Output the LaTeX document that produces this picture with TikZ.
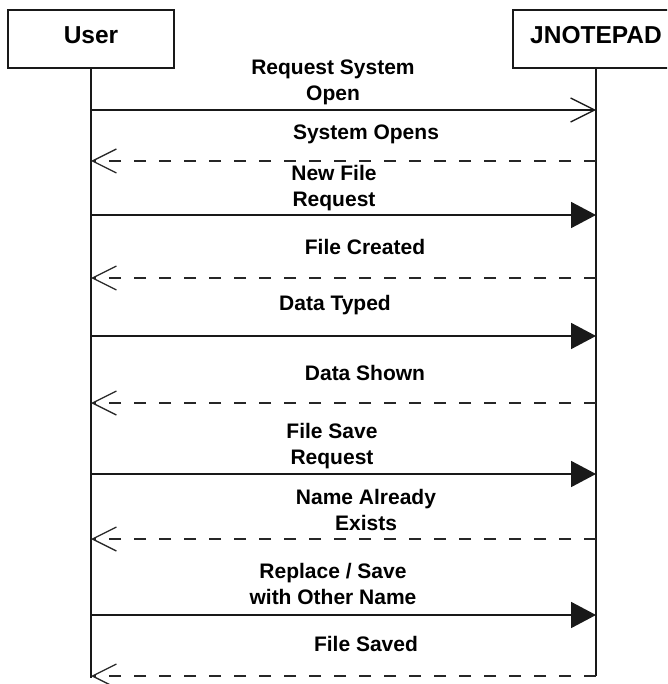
\documentclass[tikz,border=0pt]{standalone}
\usepackage{fontspec}
\setmainfont{Liberation Sans}
\usetikzlibrary{arrows.meta}
\begin{document}
\begin{tikzpicture}[x=1pt,y=-1pt,
  actor/.style={draw=black!90, line width=1.8pt, fill=white,
    minimum width=166pt, minimum height=58pt, inner sep=0pt,
    font=\bfseries\fontsize{24.5}{28}\selectfont,
    text height=17.5pt, text depth=9pt},
  lifeline/.style={draw=black!90, line width=1.8pt},
  callopen/.style={draw=black!90, line width=1.8pt,
    -{Straight Barb[length=24pt,width=24pt,line width=1.3pt]}},
  call/.style={draw=black!90, line width=1.8pt,
    -{Triangle[length=25pt,width=26pt]}},
  reply/.style={draw=black!85, line width=1.8pt, dash pattern=on 12pt off 13pt,
    -{Straight Barb[length=24pt,width=24pt,line width=1.3pt]}},
  % the node centre sits on the middle of the last line's capitals
  msg/.style={font=\bfseries\fontsize{21}{26}\selectfont, align=center,
    text height=15pt, text depth=0pt, inner sep=0pt}
]
\useasboundingbox (0,0) rectangle (667,684);
\clip (0,0) rectangle (667,684);

% participants
\node[actor] (user) at (91,39) {User};
\node[actor] (jnp)  at (596,39) {JNOTEPAD};

% lifelines
\coordinate (uend) at (91,678);
\coordinate (jend) at (596,676);
\draw[lifeline] (user.south) -- (uend);
\draw[lifeline] (jnp.south) -- (jend);

% messages from User to JNOTEPAD
\draw[callopen] (user |- 0,110) -- (jnp |- 0,110);
\foreach \y in {215,336,474,615}
  \draw[call] (user |- 0,\y) -- (jnp |- 0,\y);

% replies from JNOTEPAD to User
\foreach \y in {161,278,403,539,676}
  \draw[reply] (jnp |- 0,\y) -- (user |- 0,\y);

% message labels
\node[msg] (m1)  at (333,93)  {Request System\\Open};
\node[msg] (r1)  at (366,132) {System Opens};
\node[msg] (m2)  at (334,199) {New File\\Request};
\node[msg] (r2)  at (365,247) {File Created};
\node[msg] (m3)  at (335,303) {Data Typed};
\node[msg] (r3)  at (365,373) {Data Shown};
\node[msg] (m4)  at (332,457) {File Save\\Request};
\node[msg] (r4)  at (366,523) {Name Already\\Exists};
\node[msg] (m5)  at (333,597) {Replace / Save\\with Other Name};
\node[msg] (r5)  at (366,644) {File Saved};
\end{tikzpicture}
\end{document}
